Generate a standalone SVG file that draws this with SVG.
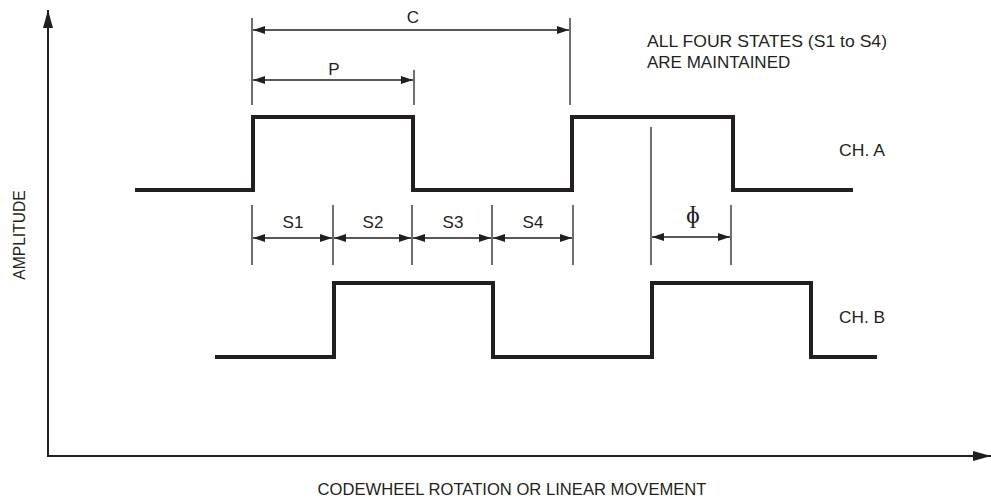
<svg xmlns="http://www.w3.org/2000/svg" width="991" height="501" viewBox="0 0 991 501">
<style>
text{font-family:"Liberation Sans",Arial,sans-serif;fill:#231f20;font-size:17px}
text.ax{font-size:15.6px}
text.phi{font-family:"Liberation Serif","DejaVu Serif",serif;font-size:25px}
.wave{fill:none;stroke:#231f20;stroke-width:4;stroke-linejoin:miter}
.ext{stroke:#231f20;stroke-width:1.3;fill:none}
.dim{stroke:#231f20;stroke-width:1.5;fill:none;marker-start:url(#ah);marker-end:url(#ah)}
.axis{stroke:#231f20;stroke-width:2;fill:none;marker-end:url(#big)}
</style>
<defs>
<marker id="ah" viewBox="0 0 12 8" refX="12" refY="4" markerWidth="12" markerHeight="8" markerUnits="userSpaceOnUse" orient="auto-start-reverse"><path d="M0,0L12,4L0,8z" fill="#231f20"/></marker>
<marker id="big" viewBox="0 0 18 10" refX="18" refY="5" markerWidth="18" markerHeight="10" markerUnits="userSpaceOnUse" orient="auto"><path d="M0,0L18,5L0,10z" fill="#231f20"/></marker>
</defs>
<g id="axes">
<line class="axis" x1="48" y1="457" x2="48" y2="10"/>
<line class="axis" x1="47" y1="456" x2="991" y2="456"/>
<text class="ax" transform="translate(25,235) rotate(-90)" text-anchor="middle">AMPLITUDE</text>
<text class="ax" x="512" y="495" text-anchor="middle" textLength="389" lengthAdjust="spacingAndGlyphs">CODEWHEEL ROTATION OR LINEAR MOVEMENT</text>
</g>
<g id="chA">
<path class="wave" d="M135,190H253V117H413V190H572V117H733V190H853"/>
<text x="839" y="156" textLength="46" lengthAdjust="spacingAndGlyphs">CH. A</text>
</g>
<g id="chB">
<path class="wave" d="M215,357H334V283H493V357H652V283H811V357H877"/>
<text x="839" y="323" textLength="46" lengthAdjust="spacingAndGlyphs">CH. B</text>
</g>
<g id="note">
<text x="647" y="47" textLength="240" lengthAdjust="spacingAndGlyphs">ALL FOUR STATES (S1 to S4)</text>
<text x="647" y="68">ARE MAINTAINED</text>
</g>
<g id="connectors">
<line class="ext" x1="252" y1="18" x2="252" y2="105"/>
<line class="ext" x1="570" y1="18" x2="570" y2="105"/>
<line class="ext" x1="414" y1="70" x2="414" y2="105"/>
<line class="dim" x1="253" y1="30" x2="569" y2="30"/>
<line class="dim" x1="253" y1="80" x2="413" y2="80"/>
<line class="ext" x1="252" y1="205" x2="252" y2="265"/>
<line class="ext" x1="333" y1="205" x2="333" y2="265"/>
<line class="ext" x1="412" y1="205" x2="412" y2="265"/>
<line class="ext" x1="492" y1="205" x2="492" y2="265"/>
<line class="ext" x1="573" y1="205" x2="573" y2="265"/>
<line class="dim" x1="253" y1="238" x2="332" y2="238"/>
<line class="dim" x1="334" y1="238" x2="411" y2="238"/>
<line class="dim" x1="413" y1="238" x2="491" y2="238"/>
<line class="dim" x1="493" y1="238" x2="572" y2="238"/>
<line class="ext" x1="651" y1="127" x2="651" y2="265"/>
<line class="ext" x1="731" y1="205" x2="731" y2="265"/>
<line class="dim" x1="652" y1="237" x2="730" y2="237"/>
</g>
<g id="labels">
<text x="413" y="23" text-anchor="middle">C</text>
<text x="334" y="75" text-anchor="middle">P</text>
<text x="293" y="228" text-anchor="middle">S1</text>
<text x="373" y="228" text-anchor="middle">S2</text>
<text x="453" y="228" text-anchor="middle">S3</text>
<text x="533" y="228" text-anchor="middle">S4</text>
<text class="phi" x="693" y="223" text-anchor="middle">ɸ</text>
</g>
</svg>
